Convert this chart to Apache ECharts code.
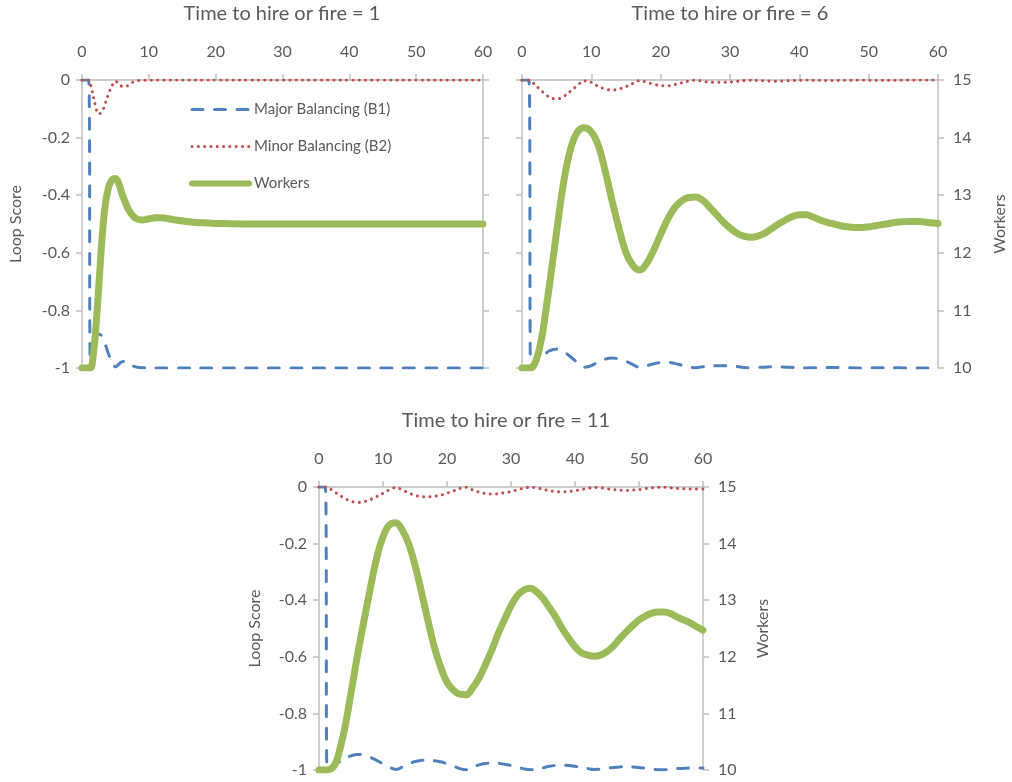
<!DOCTYPE html>
<html>
<head>
<meta charset="utf-8">
<script src="https://cdn.jsdelivr.net/npm/echarts@6/dist/echarts.min.js"></script>
<style>
  html, body { margin: 0; padding: 0; background: #ffffff; }
  #chart { width: 1012px; height: 782px; }
</style>
</head>
<body>
<div id="chart"></div>
<script>
// Loop scores and workforce after a step change at t = 1, for three hiring delays.
const SERIES_NAMES = ['Major Balancing (B1)', 'Minor Balancing (B2)', 'Workers'];
const PANEL_TITLES = ['Time to hire or fire = 1', 'Time to hire or fire = 6', 'Time to hire or fire = 11'];

// Time to hire or fire = 1
const time1 = [0, 0.5, 1, 1.25, 1.5, 2, 2.5, 3, 3.5, 4, 4.5, 5, 5.5, 6, 6.5, 7, 7.5, 8, 9, 10,
  11, 12, 13, 14, 16, 18, 20, 25, 30, 35, 40, 45, 50, 55, 60];
const major1 = [0, 0, 0, -0.988, -0.963, -0.913, -0.882, -0.89, -0.92, -0.953, -0.98, -0.996, -0.987, -0.978, -0.977, -0.983, -0.991, -0.996, -0.999, -0.999,
  -1, -1, -1, -1, -1, -1, -1, -1, -1, -1, -1, -1, -1, -1, -1];
const minor1 = [0, 0, 0, -0.012, -0.037, -0.087, -0.118, -0.11, -0.08, -0.047, -0.02, -0.004, -0.013, -0.022, -0.023, -0.017, -0.009, -0.004, -0.001, -0.001,
  0, 0, 0, 0, 0, 0, 0, 0, 0, 0, 0, 0, 0, 0, 0];
const workers1 = [10, 10, 10, 10, 10.05, 10.6, 11.4, 12.25, 12.85, 13.15, 13.27, 13.29, 13.2, 13.02, 12.87, 12.74, 12.66, 12.6, 12.57, 12.59,
  12.61, 12.61, 12.59, 12.57, 12.54, 12.52, 12.51, 12.5, 12.5, 12.5, 12.5, 12.5, 12.5, 12.5, 12.5];

// Time to hire or fire = 6 and 11 share one time grid
const time6 = [0, 0.5, 1, 1.25, 1.5, 2, 2.5, 3, 3.5, 4,
  5, 6, 7, 8, 9, 10, 11, 12, 13, 14, 15, 16, 17, 18, 19, 20, 21, 22, 23, 24, 25, 26, 27, 28, 29, 30, 31, 32,
  33, 34, 35, 36, 37, 38, 39, 40, 41, 42, 43, 44, 45, 46, 47, 48, 49, 50, 51, 52, 53, 54, 55, 56, 57, 58, 59, 60];
const major6 = [0, 0, 0, -0.996, -0.992, -0.981, -0.969, -0.958, -0.948, -0.94,
  -0.934, -0.943, -0.961, -0.981, -0.997, -0.992, -0.978, -0.969, -0.965, -0.969, -0.977, -0.988, -0.998, -0.992, -0.985, -0.981,
  -0.98, -0.984, -0.99, -0.996, -0.999, -0.996, -0.993, -0.992, -0.992, -0.993, -0.995, -0.998, -0.999, -0.998, -0.997, -0.996,
  -0.996, -0.997, -0.998, -0.999, -1, -0.999, -0.999, -0.998, -0.998, -0.999, -0.999, -1, -1, -0.999, -0.999, -0.999, -0.999,
  -0.999, -1, -1, -1, -1, -1, -1];
const minor6 = [0, 0, 0, -0.004, -0.008, -0.019, -0.031, -0.042, -0.052, -0.06,
  -0.066, -0.057, -0.039, -0.019, -0.003, -0.008, -0.022, -0.031, -0.035, -0.031, -0.023, -0.012, -0.002, -0.008, -0.015, -0.019,
  -0.02, -0.016, -0.01, -0.004, -0.001, -0.004, -0.007, -0.008, -0.008, -0.007, -0.005, -0.002, -0.001, -0.002, -0.003, -0.004,
  -0.004, -0.003, -0.002, -0.001, 0, -0.001, -0.001, -0.002, -0.002, -0.001, -0.001, 0, 0, -0.001, -0.001, -0.001, -0.001,
  -0.001, 0, 0, 0, 0, 0, 0];
const workers6 = [10, 10, 10, 10, 10.01, 10.12, 10.33, 10.63, 11.05, 11.47,
  12.37, 13.22, 13.8, 14.1, 14.17, 14.1, 13.87, 13.42, 12.9, 12.42, 12.0, 11.78, 11.7, 11.82, 12.05, 12.32,
  12.58, 12.78, 12.9, 12.96, 12.97, 12.92, 12.8, 12.67, 12.54, 12.43, 12.34, 12.29, 12.27, 12.29, 12.34, 12.42,
  12.5, 12.57, 12.63, 12.66, 12.66, 12.62, 12.57, 12.53, 12.5, 12.47, 12.45, 12.44, 12.44, 12.45, 12.47, 12.49, 12.51,
  12.53, 12.54, 12.545, 12.545, 12.535, 12.52, 12.51];

const time11 = time6;
const major11 = [0, 0, 0, -0.998, -0.996, -0.99, -0.982, -0.974, -0.967, -0.96,
  -0.95, -0.945, -0.948, -0.955, -0.966, -0.978, -0.99, -0.998, -0.99, -0.979, -0.97, -0.966, -0.965, -0.967, -0.971, -0.978,
  -0.986, -0.995, -0.999, -0.99, -0.982, -0.977, -0.975, -0.976, -0.98, -0.984, -0.99, -0.996, -0.999, -0.997, -0.992, -0.987,
  -0.984, -0.983, -0.984, -0.987, -0.991, -0.995, -0.998, -0.997, -0.994, -0.991, -0.989, -0.988, -0.989, -0.991, -0.994, -0.997, -0.999,
  -0.999, -0.997, -0.995, -0.994, -0.993, -0.993, -0.993];
const minor11 = [0, 0, 0, -0.002, -0.004, -0.01, -0.018, -0.026, -0.033, -0.04,
  -0.05, -0.055, -0.052, -0.045, -0.034, -0.022, -0.01, -0.002, -0.01, -0.021, -0.03, -0.034, -0.035, -0.033, -0.029, -0.022,
  -0.014, -0.005, -0.001, -0.01, -0.018, -0.023, -0.025, -0.024, -0.02, -0.016, -0.01, -0.004, -0.001, -0.003, -0.008, -0.013,
  -0.016, -0.017, -0.016, -0.013, -0.009, -0.005, -0.002, -0.003, -0.006, -0.009, -0.011, -0.012, -0.011, -0.009, -0.006, -0.003, -0.001,
  -0.001, -0.003, -0.005, -0.006, -0.007, -0.007, -0.007];
const workers11 = [10, 10, 10, 10, 10.005, 10.03, 10.1, 10.25, 10.48, 10.72,
  11.36, 12.02, 12.62, 13.2, 13.74, 14.12, 14.33, 14.37, 14.24, 14.0, 13.62, 13.15, 12.65, 12.18, 11.82, 11.55,
  11.41, 11.34, 11.33, 11.45, 11.62, 11.86, 12.12, 12.41, 12.66, 12.9, 13.08, 13.18, 13.21, 13.15, 13.03, 12.87,
  12.7, 12.5, 12.33, 12.18, 12.07, 12.03, 12.01, 12.03, 12.09, 12.19, 12.32, 12.44, 12.55, 12.65, 12.72, 12.77, 12.79,
  12.79, 12.76, 12.7, 12.65, 12.6, 12.53, 12.47];

const FONT = 'Lato, "Open Sans", sans-serif';
const TEXT = '#595959';
const AXIS = '#BFBFBF';
const BLUE = '#4F81BD';
const RED = '#C0504D';
const GREEN = '#9BBB59';

const STYLE_B1 = { color: BLUE, width: 3, type: [11, 11.5], cap: 'round' };
const STYLE_B2 = { color: RED, width: 3, type: [0.1, 6.2], cap: 'round' };
const STYLE_W = { color: GREEN, width: 7, cap: 'round', join: 'round' };

const pair = (t, v) => t.map((x, i) => [x, v[i]]);

const panels = [
  { t: time1, b1: major1, b2: minor1, w: workers1, grid: { left: 82, top: 80, width: 401, height: 288 },
    title: { x: 282, y: 4 }, leftLabels: true, rightLabels: false, leftGap: 58, rightGap: 50 },
  { t: time6, b1: major6, b2: minor6, w: workers6, grid: { left: 522, top: 80, width: 416, height: 288 },
    title: { x: 730, y: 4 }, leftLabels: false, rightLabels: true, leftGap: 48, rightGap: 54 },
  { t: time11, b1: major11, b2: minor11, w: workers11, grid: { left: 319, top: 487, width: 384, height: 283 },
    title: { x: 506, y: 411 }, leftLabels: true, rightLabels: true, leftGap: 56, rightGap: 52 }
];

const axisLine = { show: true, onZero: false, lineStyle: { color: AXIS, width: 1.5 } };
const axisTick = { show: true, inside: false, length: 6, lineStyle: { color: AXIS, width: 1.5 } };
const labelStyle = { color: TEXT, fontFamily: FONT, fontSize: 16 };
const nameStyle = { color: TEXT, fontFamily: FONT, fontSize: 16 };

const grids = [], xAxes = [], yAxes = [], series = [], titles = [];

panels.forEach((p, i) => {
  grids.push(Object.assign({ containLabel: false }, p.grid));
  titles.push({
    text: PANEL_TITLES[i], left: p.title.x, top: p.title.y, textAlign: 'center', padding: 0,
    textStyle: { color: TEXT, fontFamily: FONT, fontSize: 20, fontWeight: 'normal' }
  });
  xAxes.push({
    type: 'value', gridIndex: i, position: 'top', min: 0, max: 60, interval: 10,
    axisLine, axisTick, splitLine: { show: false },
    axisLabel: Object.assign({ margin: 20 }, labelStyle)
  });
  yAxes.push({
    type: 'value', gridIndex: i, position: 'left', min: -1, max: 0, interval: 0.2,
    axisLine, axisTick, splitLine: { show: false },
    axisLabel: Object.assign({ show: p.leftLabels, margin: 12 }, labelStyle),
    name: p.leftLabels ? 'Loop Score' : '', nameLocation: 'middle',
    nameGap: p.leftGap, nameTextStyle: nameStyle
  });
  yAxes.push({
    type: 'value', gridIndex: i, position: 'right', min: 10, max: 15, interval: 1,
    axisLine, axisTick, splitLine: { show: false },
    axisLabel: Object.assign({ show: p.rightLabels, margin: 15 }, labelStyle),
    name: p.rightLabels ? 'Workers' : '', nameLocation: 'middle',
    nameGap: p.rightGap, nameTextStyle: nameStyle
  });

  const common = { type: 'line', xAxisIndex: i, symbol: 'none', showSymbol: false, animation: false, smooth: 0.4 };
  series.push(Object.assign({}, common, {
    name: SERIES_NAMES[0], yAxisIndex: 2 * i, data: pair(p.t, p.b1),
    lineStyle: STYLE_B1, itemStyle: { color: BLUE }
  }));
  series.push(Object.assign({}, common, {
    name: SERIES_NAMES[1], yAxisIndex: 2 * i, data: pair(p.t, p.b2),
    lineStyle: STYLE_B2, itemStyle: { color: RED }
  }));
  series.push(Object.assign({}, common, {
    name: SERIES_NAMES[2], yAxisIndex: 2 * i + 1, data: pair(p.t, p.w),
    lineStyle: STYLE_W, itemStyle: { color: GREEN }
  }));
});

const chart = echarts.init(document.getElementById('chart'), null, { renderer: 'canvas' });
chart.setOption({
  backgroundColor: '#ffffff',
  animation: false,
  title: titles,
  legend: {
    data: [
      { name: SERIES_NAMES[0], lineStyle: STYLE_B1 },
      { name: SERIES_NAMES[1], lineStyle: STYLE_B2 },
      { name: SERIES_NAMES[2], lineStyle: Object.assign({}, STYLE_W, { width: 6 }) }
    ],
    orient: 'vertical', left: 189, top: 102, padding: 0,
    itemWidth: 57, itemHeight: 14, itemGap: 22, selectedMode: false,
    itemStyle: { color: 'rgba(0,0,0,0)', borderWidth: 0 },
    textStyle: { color: TEXT, fontFamily: FONT, fontSize: 15 }
  },
  grid: grids,
  xAxis: xAxes,
  yAxis: yAxes,
  series
});
</script>
</body>
</html>
